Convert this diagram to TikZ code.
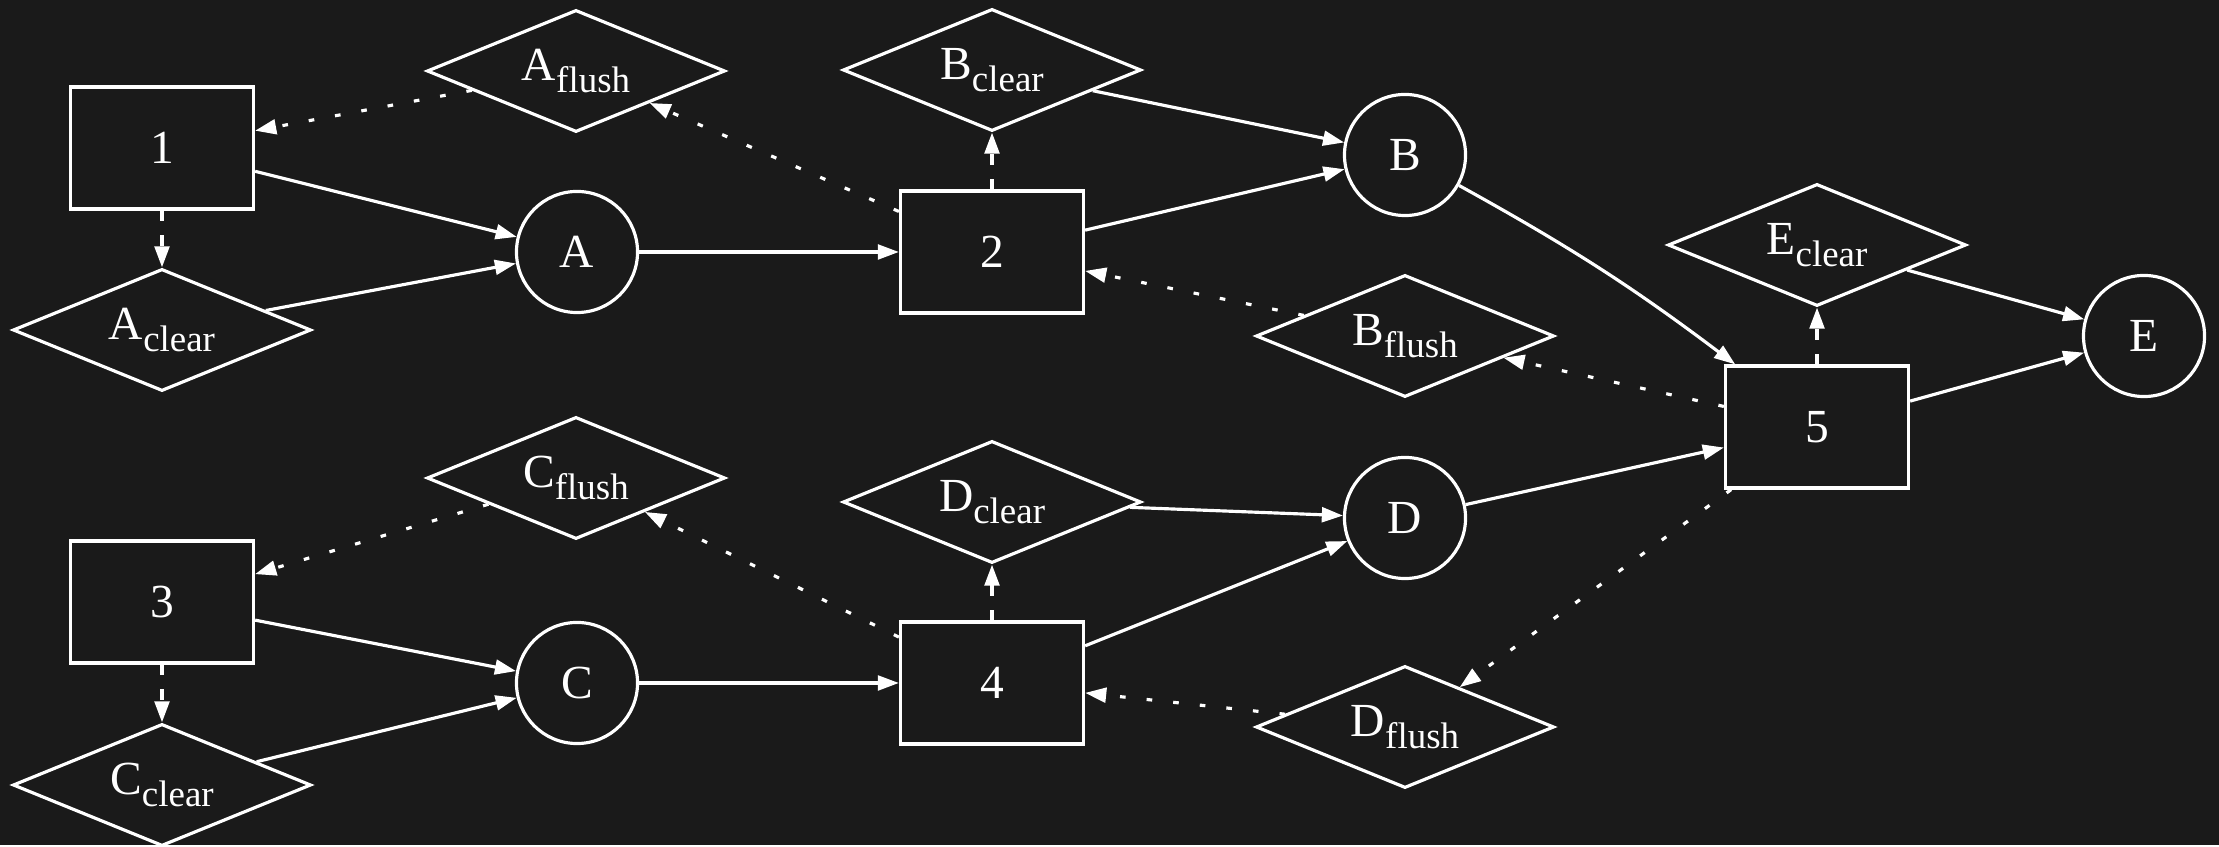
\documentclass[tikz,border=0pt]{standalone}
\usepackage{fontspec}
\setmainfont{Liberation Serif}
\usetikzlibrary{arrows.meta,shapes.geometric}
\definecolor{BgDark}{HTML}{1A1A1A}
\definecolor{FgLight}{HTML}{FFFFFF}

\newcommand{\lowtag}[2]{#1\raisebox{-3.3pt}{\fontsize{10.5}{12}\selectfont #2}}

\begin{document}
\begin{tikzpicture}[
    x=0.01cm, y=-0.01cm,
    every node/.style={draw=FgLight, text=FgLight, line width=0.9pt, inner sep=0pt,
        font=\fontsize{13.5}{16}\selectfont},
    proc/.style={rectangle, minimum width=1.83cm, minimum height=1.22cm},
    res/.style={circle, minimum size=1.21cm},
    flag/.style={diamond, aspect=2.44, minimum width=2.98cm, minimum height=1.22cm},
    link/.style={-{Triangle[length=6pt,width=4.2pt]}, line width=0.9pt, FgLight},
    clearlink/.style={link, dash pattern=on 3pt off 4pt},
    flushlink/.style={link, dash pattern=on 1.6pt off 6pt}
 ]
\fill[BgDark] (0,0) rectangle (2219,845);

% processes
\node[proc] (n1) at (162,148) {1};
\node[proc] (n2) at (992,252) {2};
\node[proc] (n3) at (162,602) {3};
\node[proc] (n4) at (992,683) {4};
\node[proc] (n5) at (1817,427) {5};

% resources
\node[res] (A) at (577,252) {A};
\node[res] (B) at (1405,155) {B};
\node[res] (C) at (577,683) {C};
\node[res] (D) at (1405,518) {D};
\node[res] (E) at (2144,336) {E};

% flags
\node[flag] (Aclear) at (162,330) {\lowtag{A}{clear}};
\node[flag] (Aflush) at (576,71) {\lowtag{A}{flush}};
\node[flag] (Bclear) at (992,70) {\lowtag{B}{clear}};
\node[flag] (Bflush) at (1405,336) {\lowtag{B}{flush}};
\node[flag] (Cclear) at (162,785) {\lowtag{C}{clear}};
\node[flag] (Cflush) at (576,478) {\lowtag{C}{flush}};
\node[flag] (Dclear) at (992,502) {\lowtag{D}{clear}};
\node[flag] (Dflush) at (1405,727) {\lowtag{D}{flush}};
\node[flag] (Eclear) at (1817,245) {\lowtag{E}{clear}};

\foreach \a/\b in {n1/A, Aclear/A, A/n2, n2/B, Bclear/B, n3/C, Cclear/C, C/n4,
                   n4/D, Dclear/D, D/n5, n5/E, Eclear/E} {
    \draw[link] (\a) -- (\b);
}
\draw[link] (B) to[bend left=4] (n5);

\foreach \a/\b in {n1/Aclear, n2/Bclear, n3/Cclear, n4/Dclear, n5/Eclear} {
    \draw[clearlink] (\a) -- (\b);
}

\foreach \a/\b in {Aflush/n1, n2/Aflush, Bflush/n2, n5/Bflush,
                   Cflush/n3, n4/Cflush, Dflush/n4, n5/Dflush} {
    \draw[flushlink] (\a) -- (\b);
}

\end{tikzpicture}
\end{document}
